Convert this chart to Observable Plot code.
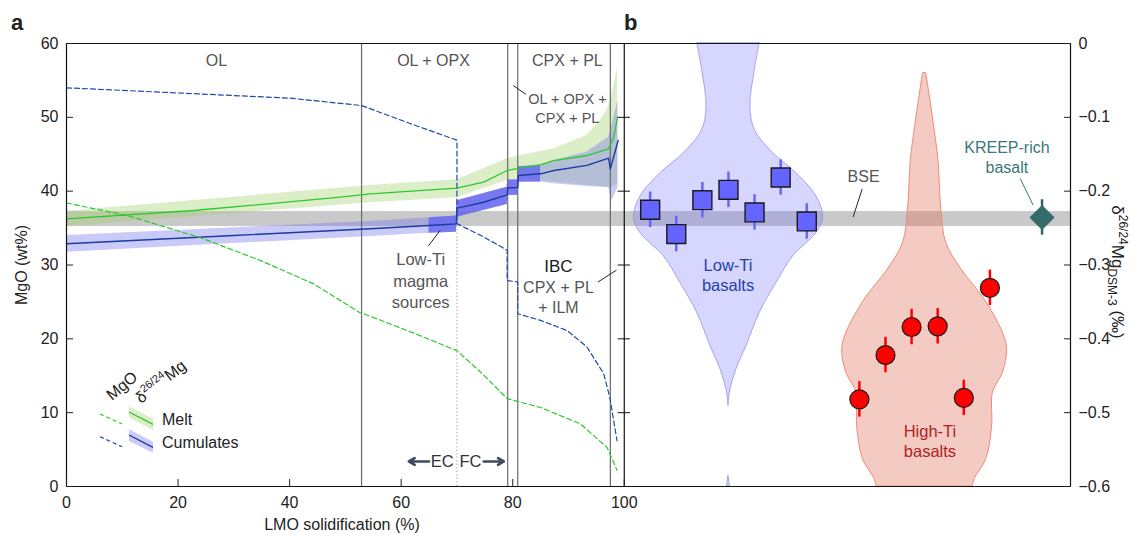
<!DOCTYPE html>
<html><head><meta charset="utf-8">
<script src="https://cdn.jsdelivr.net/npm/d3@7"></script>
<script src="https://cdn.jsdelivr.net/npm/@observablehq/plot@0.6"></script>
<style>
body{margin:0;background:#fff;}
#chart{width:1139px;height:536px;}
</style></head><body><div id="chart"></div>
<script>
// ---------------- Panel a: LMO solidification model ----------------
const xTicks = [0, 20, 40, 60, 80, 100];
const mgoTicks = [0, 10, 20, 30, 40, 50, 60];
const phaseBoundaries = [52.9, 79.1, 80.9, 97.5];
const ecFcBoundary = 70;
const phaseLabels = ["OL", "OL + OPX", "CPX + PL"];

// MgO (wt%) of melt (dashed green)
const meltMgOX = [0, 10.9, 24, 34.8, 44.3, 52.7, 53.3, 61.5, 70, 74.8, 79, 85, 92.1, 96.9, 98.7];
const meltMgO  = [38.4, 36.7, 33.7, 30.6, 27.45, 23.5, 23.4, 21.0, 18.4, 15.1, 11.9, 10.7, 8.5, 5.3, 2.2];
// MgO (wt%) of cumulates (dashed blue)
const cumMgOX = [0, 20, 40, 52.9, 61.1, 70, 70, 74.8, 79.0, 79.0, 80.9, 80.9, 85, 89.8, 93.3, 96.3, 97.4, 98.7];
const cumMgO  = [54.0, 53.3, 52.6, 51.6, 49.3, 46.9, 35.6, 33.8, 32.0, 27.9, 27.7, 23.4, 22.5, 21.1, 18.9, 15.3, 12.1, 6.2];

// δ26/24Mg of melt (solid green) and its uncertainty band
const meltDeltaX = [0, 22.8, 49.1, 54.5, 70, 74.8, 79, 81.4, 85, 87.4, 93.3, 97.2, 98.1, 98.8];
const meltDelta  = [-0.2375, -0.2262, -0.2082, -0.2036, -0.196, -0.1878, -0.172, -0.1684, -0.164, -0.1585, -0.1517, -0.1427, -0.127, -0.0998];
const meltBandX    = [0, 54.5, 70, 79, 81.4, 87.4, 93.3, 95.5, 96.9, 98.0, 98.8];
const meltBandLow  = [-0.2477, -0.2158, -0.209, -0.1856, -0.183, -0.188, -0.1923, -0.1935, -0.1946, -0.195, -0.19];
const meltBandHigh = [-0.2273, -0.1923, -0.1846, -0.1562, -0.1517, -0.1427, -0.1246, -0.106, -0.0907, -0.062, -0.032];

// δ26/24Mg of cumulates (solid blue) and its uncertainty band
const cumDeltaX = [0, 30, 54.5, 65, 69.9, 70, 74.8, 79, 79.1, 80.9, 81, 85, 87.4, 93.3, 97.2, 97.5, 98.9];
const cumDelta  = [-0.2713, -0.260, -0.251, -0.2465, -0.2443, -0.223, -0.215, -0.205, -0.1955, -0.195, -0.1788, -0.1765, -0.172, -0.165, -0.1553, -0.1698, -0.1314];
const cumBandX    = [0, 54.5, 65, 69.9, 70, 79, 79.1, 80.9, 81, 85, 87.4, 93.3, 97.2, 97.5, 97.8, 98.9];
const cumBandLow  = [-0.2826, -0.2614, -0.257, -0.2556, -0.2353, -0.218, -0.206, -0.2055, -0.188, -0.1875, -0.19, -0.1937, -0.1955, -0.205, -0.2127, -0.195];
const cumBandHigh = [-0.26, -0.2411, -0.236, -0.2335, -0.213, -0.1946, -0.185, -0.1845, -0.167, -0.1652, -0.1585, -0.147, -0.127, -0.12, -0.11, -0.077];
const sourceRange = [65, 85]; // Low-Ti magma sources

// ---------------- Panel b: basalts ----------------
const deltaTicks = [0, -0.1, -0.2, -0.3, -0.4, -0.5, -0.6];
const lowTiDelta = [-0.2252, -0.2581, -0.2122, -0.1982, -0.2288, -0.1815, -0.2410];
const lowTiErr   = [0.024, 0.024, 0.024, 0.024, 0.024, 0.024, 0.024];
const highTiDelta = [-0.482, -0.422, -0.384, -0.383, -0.480, -0.331];
const highTiErr   = [0.024, 0.024, 0.024, 0.024, 0.024, 0.024];
const kreepDelta = [-0.2356];
const kreepErr = [0.024];
const bseDelta = -0.2377, bseErr = 0.0101;

const lowTiViolinDelta   = [0, -0.036, -0.0856, -0.117, -0.1486, -0.1757, -0.2072, -0.2365, -0.2568, -0.2883, -0.3243, -0.3649, -0.4099, -0.4414, -0.473, -0.491];
const lowTiViolinDensity = [0.33, 0.278, 0.232, 0.278, 0.472, 0.718, 0.929, 1.0, 0.929, 0.683, 0.507, 0.33, 0.19, 0.084, 0.014, 0];
const lowTiTailDelta   = [-0.586, -0.593, -0.6];
const lowTiTailDensity = [0, 0.008, 0.016];
const highTiViolinDelta   = [-0.0405, -0.0676, -0.1126, -0.1577, -0.2252, -0.2703, -0.3063, -0.3468, -0.3919, -0.4144, -0.4459, -0.4730, -0.518, -0.563, -0.590, -0.6];
const highTiViolinDensity = [0.019, 0.057, 0.115, 0.167, 0.202, 0.263, 0.448, 0.727, 0.949, 1.0, 0.949, 0.828, 0.818, 0.748, 0.606, 0.582];

// ---------------- layout helpers ----------------
const FONT = "'Liberation Sans', Arial, Helvetica, sans-serif";
const Y = d => 60 + 100 * d;            // δ (‰) -> shared vertical scale (MgO wt%)
const lowTiCenter = 118.68, highTiCenter = 153.85, kreepX = 174.9, step = 4.68;
const lowTiHalfWidth = 16.98, highTiHalfWidth = 14.79;

const zip = (xs, ys) => xs.map((x, i) => ({x, y: ys[i]}));
const meltMgOData = zip(meltMgOX, meltMgO);
const cumMgOData = zip(cumMgOX, cumMgO);
const meltDeltaData = zip(meltDeltaX, meltDelta.map(Y));
const cumDeltaData = zip(cumDeltaX, cumDelta.map(Y));
const meltBand = meltBandX.map((x, i) => ({x, lo: Y(meltBandLow[i]), hi: Y(meltBandHigh[i])}));
const cumBand = cumBandX.map((x, i) => ({x, lo: Y(cumBandLow[i]), hi: Y(cumBandHigh[i])}));
const srcBand = cumBand.filter(d => d.x >= sourceRange[0] && d.x <= sourceRange[1]);

const lowTi = lowTiDelta.map((d, i) => ({x: lowTiCenter + (i - (lowTiDelta.length - 1) / 2) * step, y: Y(d), lo: Y(d - lowTiErr[i]), hi: Y(d + lowTiErr[i])}));
const highTi = highTiDelta.map((d, i) => ({x: highTiCenter + (i - (highTiDelta.length - 1) / 2) * step, y: Y(d), lo: Y(d - highTiErr[i]), hi: Y(d + highTiErr[i])}));
const kreep = kreepDelta.map((d, i) => ({x: kreepX, y: Y(d), lo: Y(d - kreepErr[i]), hi: Y(d + kreepErr[i])}));
const violin = (ds, dens, c, w) => ds.map((d, i) => ({y: Y(d), x1: c - dens[i] * w, x2: c + dens[i] * w}));
const lowTiViolin = violin(lowTiViolinDelta, lowTiViolinDensity, lowTiCenter, lowTiHalfWidth);
const lowTiTail = violin(lowTiTailDelta, lowTiTailDensity, lowTiCenter, lowTiHalfWidth);
const highTiViolin = violin(highTiViolinDelta, highTiViolinDensity, highTiCenter, highTiHalfWidth);

const fmtDelta = v => { const d = (v - 60) / 100; return d === 0 ? "0" : "\u2212" + Math.abs(d).toFixed(1); };
const gray = "#555";

const plot = Plot.plot({
  width: 1139, height: 536,
  marginTop: 43, marginBottom: 50, marginLeft: 66, marginRight: 69,
  x: {domain: [0, 180]},
  y: {domain: [0, 60]},
  style: {fontFamily: FONT, fontSize: "16px", background: "white", color: "#222"},
  marks: [
    // BSE reference band
    Plot.rect([bseDelta], {x1: 0, x2: 180, y1: d => Y(d - bseErr), y2: d => Y(d + bseErr), fill: "#000", fillOpacity: 0.21}),
    // violins
    Plot.areaX(lowTiViolin, {y: "y", x1: "x1", x2: "x2", curve: "catmull-rom", fill: "#6666ff", fillOpacity: 0.27, stroke: "#8e96e2", strokeWidth: 0.8}),
    Plot.areaX(lowTiTail, {y: "y", x1: "x1", x2: "x2", fill: "#6666ff", fillOpacity: 0.27, stroke: "#8e96e2", strokeWidth: 0.8}),
    Plot.areaX(highTiViolin, {y: "y", x1: "x1", x2: "x2", curve: "catmull-rom", fill: "rgb(221,106,81)", fillOpacity: 0.35, stroke: "#f08a78", strokeWidth: 1}),
    // model uncertainty bands
    Plot.areaY(meltBand, {x: "x", y1: "lo", y2: "hi", fill: "#9acd60", fillOpacity: 0.35}),
    Plot.areaY(cumBand, {x: "x", y1: "lo", y2: "hi", fill: "#6e6ef0", fillOpacity: 0.37}),
    Plot.areaY(srcBand, {x: "x", y1: "lo", y2: "hi", fill: "#6a6af0", fillOpacity: 0.85}),
    // phase boundaries
    Plot.ruleX(phaseBoundaries, {y1: 0, y2: 60, stroke: "#6a6a6a", strokeWidth: 1.2}),
    Plot.ruleX([ecFcBoundary], {y1: 0, y2: cumMgO[6], stroke: "#aaa", strokeWidth: 1, strokeDasharray: "1.5,2"}),
    // δ curves
    Plot.line(meltDeltaData, {x: "x", y: "y", stroke: "#2ec82e", strokeWidth: 1.3}),
    Plot.line(cumDeltaData, {x: "x", y: "y", stroke: "#1a3c9e", strokeWidth: 1.4}),
    // MgO curves
    Plot.line(meltMgOData, {x: "x", y: "y", stroke: "#2ec82e", strokeWidth: 1.2, strokeDasharray: "5,3"}),
    Plot.line(cumMgOData, {x: "x", y: "y", stroke: "#1f49ad", strokeWidth: 1.2, strokeDasharray: "5,3"}),
    // panel b data
    Plot.ruleX(lowTi, {x: "x", y1: "lo", y2: "hi", stroke: "#6666ff", strokeWidth: 2.5}),
    Plot.dot(lowTi, {x: "x", y: "y", symbol: "square", r: 10.7, fill: "#6464ff", stroke: "#1a1a1a", strokeWidth: 1.4}),
    Plot.ruleX(highTi, {x: "x", y1: "lo", y2: "hi", stroke: "#ff0000", strokeWidth: 2.5}),
    Plot.dot(highTi, {x: "x", y: "y", r: 9.5, fill: "#ff0000", stroke: "#1a1a1a", strokeWidth: 1.2}),
    Plot.ruleX(kreep, {x: "x", y1: "lo", y2: "hi", stroke: "#2f6666", strokeWidth: 2.5}),
    Plot.dot(kreep, {x: "x", y: "y", symbol: "diamond2", r: 11.3, fill: "#336b6b", stroke: "none"}),
    // annotations
    Plot.text(phaseLabels, {x: [26.9, 65.8, 89.8], y: 57.7, text: d => d, fill: gray, fontSize: 16}),
    Plot.text(["OL + OPX +\nCPX + PL"], {x: 89.8, y: 51.3, text: d => d, fill: gray, fontSize: 14.5, lineHeight: 1.25}),
    Plot.link([0], {x1: 80.1, y1: 54.3, x2: 82.4, y2: 53.1, stroke: "#222", strokeWidth: 1}),
    Plot.text(["Low-Ti\nmagma\nsources"], {x: 63.5, y: 28.0, text: d => d, fill: gray, fontSize: 16.5, lineHeight: 1.28}),
    Plot.link([0], {x1: 64.9, y1: 32.6, x2: 67.0, y2: 34.7, stroke: "#222", strokeWidth: 1}),
    Plot.text(["IBC"], {x: 88.2, y: 29.8, text: d => d, fill: "#1a1a1a", fontSize: 17}),
    Plot.text(["CPX + PL\n+ ILM"], {x: 88.2, y: 25.7, text: d => d, fill: gray, fontSize: 16, lineHeight: 1.22}),
    Plot.link([0], {x1: 95.3, y1: 27.7, x2: 98.6, y2: 29.3, stroke: "#222", strokeWidth: 1}),
    Plot.text(["EC"], {x: 67.35, y: 3.39, text: d => d, fill: "#333", fontSize: 16.5}),
    Plot.text(["FC"], {x: 72.43, y: 3.39, text: d => d, fill: "#333", fontSize: 16.5}),
    Plot.arrow([0], {x1: 65.0, y1: 3.39, x2: 61.37, y2: 3.39, stroke: "#3e4b5e", strokeWidth: 2.6, headLength: 8}),
    Plot.arrow([0], {x1: 74.8, y1: 3.39, x2: 78.4, y2: 3.39, stroke: "#3e4b5e", strokeWidth: 2.6, headLength: 8}),
    Plot.text(["BSE"], {x: 142.9, y: 41.9, text: d => d, fill: gray, fontSize: 16}),
    Plot.link([0], {x1: 142.65, y1: 40.3, x2: 141.03, y2: 36.5, stroke: "#222", strokeWidth: 1}),
    Plot.text(["KREEP-rich\nbasalt"], {x: 168.6, y: 44.7, text: d => d, fill: "#3b7878", fontSize: 16, lineHeight: 1.25}),
    Plot.link([0], {x1: 171.0, y1: 41.7, x2: 173.3, y2: 38.1, stroke: "#3b7878", strokeWidth: 1}),
    Plot.text(["Low-Ti\nbasalts"], {x: 118.6, y: 28.67, text: d => d, fill: "#2541a8", fontSize: 16.5, lineHeight: 1.22}),
    Plot.text(["High-Ti\nbasalts"], {x: 154.8, y: 6.23, text: d => d, fill: "#b01e1e", fontSize: 16.5, lineHeight: 1.22}),
    // frame
    Plot.ruleY([0, 60], {x1: 0, x2: 180, stroke: "#111", strokeWidth: 1.2}),
    Plot.ruleX([0, 100, 180], {y1: 0, y2: 60, stroke: "#111", strokeWidth: 1.2}),
    Plot.ruleY(mgoTicks.slice(1, 6), {y: d => d, x1: 98.9, x2: 101.1, stroke: "#111", strokeWidth: 1}),
    // axes
    Plot.axisY({ticks: mgoTicks, anchor: "left", tickSize: 0, tickPadding: 8, label: null}),
    Plot.axisY({ticks: mgoTicks, anchor: "left", tickSize: 7, dx: 7, tickFormat: () => "", label: null}),
    Plot.axisY({ticks: mgoTicks, anchor: "right", tickSize: 0, tickPadding: 8, tickFormat: fmtDelta, label: null}),
    Plot.axisY({ticks: mgoTicks, anchor: "right", tickSize: 7, dx: -7, tickFormat: () => "", label: null}),
    Plot.axisX({ticks: xTicks, anchor: "bottom", tickSize: 0, tickPadding: 10, label: null}),
    Plot.axisX({ticks: xTicks, anchor: "bottom", tickSize: 7, dy: -7, tickFormat: () => "", label: null})
  ]
});
document.getElementById("chart").appendChild(plot);

// ---------- extra text: panel letters, axis titles, legend ----------
const svg = d3.select(plot);
const g = svg.append("g").attr("font-family", FONT).attr("fill", "#222").attr("text-anchor", "start");
g.append("text").attr("x", 11).attr("y", 30).attr("font-size", 22).attr("font-weight", "bold").text("a");
g.append("text").attr("x", 624).attr("y", 30).attr("font-size", 22).attr("font-weight", "bold").text("b");
g.append("text").attr("transform", "translate(27,265) rotate(-90)").attr("text-anchor", "middle").attr("font-size", 16).text("MgO (wt%)");
g.append("text").attr("x", 342).attr("y", 530).attr("text-anchor", "middle").attr("font-size", 16).text("LMO solidification (%)");
const rl = g.append("text").attr("transform", "translate(1112,272) rotate(90)").attr("text-anchor", "middle").attr("font-size", 17);
rl.append("tspan").text("δ");
rl.append("tspan").attr("font-size", 12).attr("dy", -7).text("26/24");
rl.append("tspan").attr("dy", 7).text("Mg");
rl.append("tspan").attr("font-size", 12).attr("dy", 4).text("DSM-3");
rl.append("tspan").attr("dy", -4).text(" (‰)");

// legend
const lg = g.append("g").attr("text-anchor", "start");
lg.append("text").attr("transform", "translate(112,401) rotate(-40)").attr("font-size", 16).text("MgO");
const dl = lg.append("text").attr("transform", "translate(141,404) rotate(-38)").attr("font-size", 16);
dl.append("tspan").text("δ");
dl.append("tspan").attr("font-size", 11).attr("dy", -7).text("26/24");
dl.append("tspan").attr("dy", 7).text("Mg");
lg.append("line").attr("x1", 100).attr("y1", 414).attr("x2", 122).attr("y2", 424).attr("stroke", "#2ec82e").attr("stroke-width", 1.2).attr("stroke-dasharray", "4,3");
lg.append("polygon").attr("points", "129,406.5 153,418.5 153,430 129,417.5").attr("fill", "#9acd60").attr("fill-opacity", 0.35);
lg.append("line").attr("x1", 129).attr("y1", 412).attr("x2", 153).attr("y2", 424.3).attr("stroke", "#2ec82e").attr("stroke-width", 1.3);
lg.append("line").attr("x1", 100).attr("y1", 436.7).attr("x2", 122).attr("y2", 446.7).attr("stroke", "#1f49ad").attr("stroke-width", 1.2).attr("stroke-dasharray", "4,3");
lg.append("polygon").attr("points", "129,429.3 153,441.7 153,452.7 129,441").attr("fill", "#6e6ef0").attr("fill-opacity", 0.37);
lg.append("line").attr("x1", 129).attr("y1", 435).attr("x2", 153).attr("y2", 447.3).attr("stroke", "#1a3c9e").attr("stroke-width", 1.4);
lg.append("text").attr("x", 162).attr("y", 425).attr("font-size", 16).text("Melt");
lg.append("text").attr("x", 162).attr("y", 448).attr("font-size", 16).text("Cumulates");
</script>
</body></html>
